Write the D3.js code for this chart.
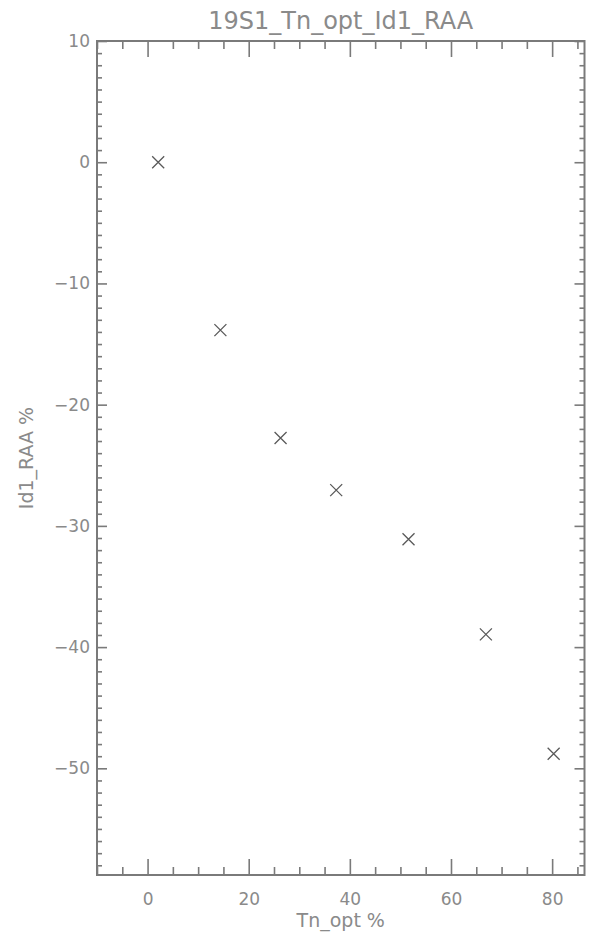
<!DOCTYPE html>
<html>
<head>
<meta charset="utf-8">
<script src="https://cdn.jsdelivr.net/npm/d3@7"></script>
<style>
  body { margin: 0; background: #fff; }
  svg { display: block; }
  text { font-family: "DejaVu Sans", sans-serif; fill: #8a8a8a; }
</style>
</head>
<body>
<div id="chart"></div>
<script>
// Scatter: Id1_RAA % vs Tn_opt %
const tnOpt = [2.1, 14.4, 26.3, 37.3, 51.6, 66.9, 80.3];
const id1Raa = [0.0, -13.85, -22.75, -27.05, -31.1, -38.95, -48.8];
const xMajorTicks = [0, 20, 40, 60, 80];
const yMajorTicks = [10, 0, -10, -20, -30, -40, -50];
const titleText = '19S1_Tn_opt_Id1_RAA';
const xTitle = 'Tn_opt %';
const yTitle = 'Id1_RAA %';

const width = 592;
const height = 936;
const margin = { top: 41, right: 7.5, bottom: 61, left: 97 };

const svg = d3.select('#chart')
  .append('svg')
  .attr('width', width)
  .attr('height', height);

const x = d3.scaleLinear()
  .domain([-10, 86.4])
  .range([margin.left, width - margin.right]);

const y = d3.scaleLinear()
  .domain([-58.8, 10])
  .range([height - margin.bottom, margin.top]);

const xMinor = d3.range(-10, 86.4, 5).filter(v => !xMajorTicks.includes(v));
const yMinor = d3.range(-58, 10.01, 1).filter(v => !yMajorTicks.includes(v));

const axisColor = '#7a7a7a';

function styleAxis(g) {
  g.select('.domain').remove();
  g.selectAll('.tick line').attr('stroke', axisColor).attr('stroke-width', 1.6);
}

// bottom axis: major with labels, minor ticks
svg.append('g')
  .attr('transform', `translate(0,${height - margin.bottom})`)
  .call(d3.axisBottom(x).tickValues(xMajorTicks).tickSize(-16).tickPadding(18).tickFormat(d3.format('d')))
  .call(styleAxis)
  .call(g => g.selectAll('text').attr('font-size', 17).attr('fill', '#8a8a8a').attr('font-family', '"DejaVu Sans", sans-serif'));

svg.append('g')
  .attr('transform', `translate(0,${height - margin.bottom})`)
  .call(d3.axisBottom(x).tickValues(xMinor).tickSize(-8).tickFormat(''))
  .call(styleAxis);

// top axis (ticks only)
svg.append('g')
  .attr('transform', `translate(0,${margin.top})`)
  .call(d3.axisTop(x).tickValues(xMajorTicks).tickSize(-16).tickFormat(''))
  .call(styleAxis);

svg.append('g')
  .attr('transform', `translate(0,${margin.top})`)
  .call(d3.axisTop(x).tickValues(xMinor).tickSize(-8).tickFormat(''))
  .call(styleAxis);

// left axis
const yFmt = d => d < 0 ? '\u2212' + Math.abs(d) : String(d);
svg.append('g')
  .attr('transform', `translate(${margin.left},0)`)
  .call(d3.axisLeft(y).tickValues(yMajorTicks).tickSize(-10).tickPadding(7).tickFormat(yFmt))
  .call(styleAxis)
  .call(g => g.selectAll('text').attr('font-size', 17).attr('fill', '#8a8a8a').attr('font-family', '"DejaVu Sans", sans-serif'));

svg.append('g')
  .attr('transform', `translate(${margin.left},0)`)
  .call(d3.axisLeft(y).tickValues(yMinor).tickSize(-5).tickFormat(''))
  .call(styleAxis);

// right axis (ticks only)
svg.append('g')
  .attr('transform', `translate(${width - margin.right},0)`)
  .call(d3.axisRight(y).tickValues(yMajorTicks).tickSize(-10).tickFormat(''))
  .call(styleAxis);

svg.append('g')
  .attr('transform', `translate(${width - margin.right},0)`)
  .call(d3.axisRight(y).tickValues(yMinor).tickSize(-5).tickFormat(''))
  .call(styleAxis);

// frame
svg.append('rect')
  .attr('x', x(-10))
  .attr('y', y(10))
  .attr('width', x(86.4) - x(-10))
  .attr('height', y(-58.8) - y(10))
  .attr('fill', 'none')
  .attr('stroke', axisColor)
  .attr('stroke-width', 2);

// markers
const pts = tnOpt.map((v, i) => ({ x: v, y: id1Raa[i] }));
const s = 6;
svg.append('g').selectAll('path')
  .data(pts)
  .enter()
  .append('path')
  .attr('d', d => {
    const cx = x(d.x), cy = y(d.y);
    return `M${cx - s},${cy - s}L${cx + s},${cy + s}M${cx - s},${cy + s}L${cx + s},${cy - s}`;
  })
  .attr('stroke', '#5a5a5a')
  .attr('stroke-width', 1.3)
  .attr('fill', 'none');

// titles
svg.append('text')
  .attr('x', (x(-10) + x(86.4)) / 2)
  .attr('y', 29)
  .attr('text-anchor', 'middle')
  .attr('font-size', 24)
  .text(titleText);

svg.append('text')
  .attr('x', (x(-10) + x(86.4)) / 2)
  .attr('y', 927)
  .attr('text-anchor', 'middle')
  .attr('font-size', 19)
  .text(xTitle);

svg.append('text')
  .attr('transform', `translate(33,${(y(10) + y(-58.8)) / 2}) rotate(-90)`)
  .attr('text-anchor', 'middle')
  .attr('font-size', 19)
  .text(yTitle);
</script>
</body>
</html>
